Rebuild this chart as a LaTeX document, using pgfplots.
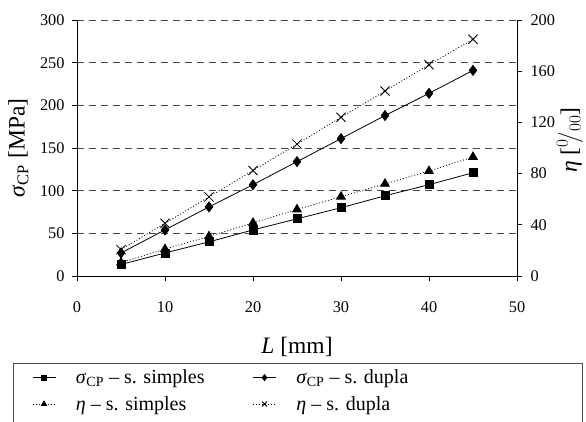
\documentclass[border=0pt]{standalone}
\usepackage{pgfplots}
\pgfplotsset{compat=1.18}
\usepackage{fontspec}
\setmainfont{Liberation Serif}
\pgfplotstableread{
L sig_s sig_d eta_s eta_d
5  13.5 27   10.5 20.6
10 27   54   21   41.2
15 40   81   31   61.8
20 54   107  41.5 82.4
25 67   134  52   103
30 80   161  62   124
35 94   188  72   144.5
40 107  214  82   165
45 121  241  93   185
}\datatable
\begin{document}
\begin{tikzpicture}
\pgfplotsset{
  common/.style={
    width=440pt, height=256pt, scale only axis,
    xmin=0, xmax=50,
    /pgf/number format/assume math mode=true,
    tick label style={font=\fontsize{16.3}{19}\selectfont},
    label style={font=\fontsize{23.5}{27}\selectfont},
    tick align=outside, major tick length=5pt,
    axis line style={line width=0.8pt},
    every tick/.style={black, line width=0.8pt},
  },
}
\begin{axis}[common,
  axis x line*=bottom, axis y line*=left,
  ymin=0, ymax=300, ytick={0,50,...,300},
  xtick={0,10,...,50},
  ymajorgrids, grid style={dash pattern=on 7pt off 5pt, black!72, line width=0.8pt},
  xticklabel style={yshift=-17pt},
  yticklabel style={xshift=-4pt},
  xlabel={\textit{L} [mm]},
  ylabel={\textit{σ}\textsubscript{CP} [MPa]},
  xlabel style={at={(axis description cs:0.5,-0.277)}, anchor=center},
  ylabel style={at={(axis description cs:-0.133,0.5)}, anchor=center},
  legend columns=2,
  legend cell align=left,
  legend image code/.code={
    \draw[mark repeat=2,mark phase=2,#1] plot coordinates {(0pt,0pt) (11.5pt,0pt) (23pt,0pt)};
  },
  legend style={at={(axis description cs:-0.102,-0.367)}, anchor=north west,
    draw=none, fill=none, inner sep=0pt, outer sep=0pt,
    font=\fontsize{20}{24}\selectfont,
    nodes={inner sep=0pt},
    column sep=20pt, row sep=11pt,
    /tikz/every even column/.append style={column sep=48pt}},
]
\addplot[black, line width=0.8pt, mark=square*, mark size=4pt, forget plot] table[x=L, y=sig_s] {\datatable};
\addplot[black, line width=0.8pt, mark=diamond*, mark size=5pt, forget plot] table[x=L, y=sig_d] {\datatable};
\addlegendimage{black, line width=0.8pt, mark=square*, mark size=2.3pt}
\addlegendentry{\textit{σ}\textsubscript{CP} – s. simples}
\addlegendimage{black, line width=0.8pt, mark=diamond*, mark size=3pt}
\addlegendentry{\textit{σ}\textsubscript{CP} – s. dupla}
\addlegendimage{black, line width=0.8pt, dash pattern=on 1pt off 2pt, mark=triangle*, mark size=3pt, mark options={solid}}
\addlegendentry{\textit{η} – s. simples}
\addlegendimage{black, line width=0.8pt, dash pattern=on 1pt off 2pt, mark=x, mark size=3.5pt, mark options={solid}}
\addlegendentry{\textit{η} – s. dupla}
\end{axis}
\begin{axis}[common,
  axis x line=none, axis y line*=right,
  ymin=0, ymax=200, ytick={0,40,...,200},
  yticklabel style={xshift=5pt},
  ylabel={\textit{η} [$^{0}\!/_{00}$]},
  ylabel style={at={(axis description cs:1.12,0.53)}, anchor=center, rotate=0},
]
\addplot[black, line width=0.8pt, dash pattern=on 1pt off 2pt, mark=triangle*, mark size=5pt, mark options={solid}] table[x=L, y=eta_s] {\datatable};
\addplot[black, line width=0.8pt, dash pattern=on 1pt off 2pt, mark=x, mark size=6.5pt, mark options={solid}] table[x=L, y=eta_d] {\datatable};
\end{axis}
\draw[black!70, line width=0.8pt] (-64pt,-87pt) rectangle (505pt,-160pt);
\pgfresetboundingbox
\path (-77pt,-145pt) rectangle (509pt,276pt);
\end{tikzpicture}
\end{document}
